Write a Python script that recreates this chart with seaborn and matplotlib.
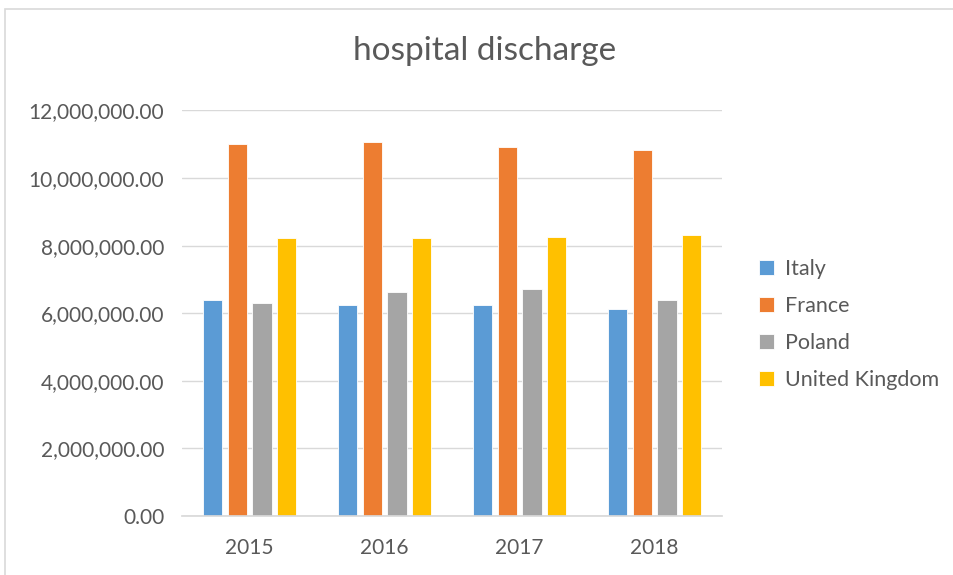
import pandas as pd
import seaborn as sns
import matplotlib.pyplot as plt
from matplotlib.patches import Rectangle
from matplotlib.ticker import FuncFormatter

years = ["2015", "2016", "2017", "2018"]
countries = ["Italy", "France", "Poland", "United Kingdom"]
italy = [6380000, 6250000, 6250000, 6110000]
france = [11000000, 11060000, 10920000, 10820000]
poland = [6300000, 6620000, 6720000, 6390000]
uk = [8220000, 8220000, 8260000, 8310000]
colors = ["#5b9bd5", "#ed7d31", "#a5a5a5", "#ffc000"]

rows = []
for name, vals in zip(countries, [italy, france, poland, uk]):
    for y, v in zip(years, vals):
        rows.append({"year": y, "country": name, "discharges": v})
df = pd.DataFrame(rows)

sns.set_theme(style="white")
plt.rcParams['font.family'] = ['Lato', 'DejaVu Sans']
text_col = "#595959"

fig = plt.figure(figsize=(9.54, 5.75), dpi=100)
ax = fig.add_axes([0.191, 0.1026, 0.566, 0.7054])

sns.barplot(data=df, x="year", y="discharges", hue="country", hue_order=countries,
            order=years, palette=colors, width=0.73, gap=0.22, ax=ax,
            errorbar=None, saturation=1, edgecolor="white", linewidth=0.6)

ax.set_ylim(0, 12000000)
ax.set_xlim(-0.5, 3.5)
ax.set_yticks(range(0, 12000001, 2000000))
ax.yaxis.set_major_formatter(FuncFormatter(lambda v, p: f"{v:,.2f}"))
ax.grid(axis="y", color="#d9d9d9", linewidth=1)
ax.set_axisbelow(True)
for s in ["top", "right", "left"]:
    ax.spines[s].set_visible(False)
ax.spines["bottom"].set_color("#d9d9d9")
ax.tick_params(axis="both", length=0, labelsize=15, colors=text_col)
ax.tick_params(axis="y", pad=13)
ax.tick_params(axis="x", pad=16)
ax.set_xlabel("")
ax.set_ylabel("")

fig.text(0.508, 0.912, "hospital discharge", ha="center", va="center",
         fontsize=24, color=text_col)

handles, labels = ax.get_legend_handles_labels()
ax.legend(handles, labels, loc="center left", bbox_to_anchor=(1.033, 0.472),
          frameon=False, fontsize=15.5, labelcolor=text_col, handlelength=0.7,
          handleheight=0.7, handletextpad=0.5, labelspacing=0.78)

fig.add_artist(Rectangle((5 / 954, -0.05), 1.1, 1.05 - 9 / 575,
                         transform=fig.transFigure, fill=False,
                         edgecolor="#d9d9d9", linewidth=1.2))

fig.savefig("out.png", dpi=100)
